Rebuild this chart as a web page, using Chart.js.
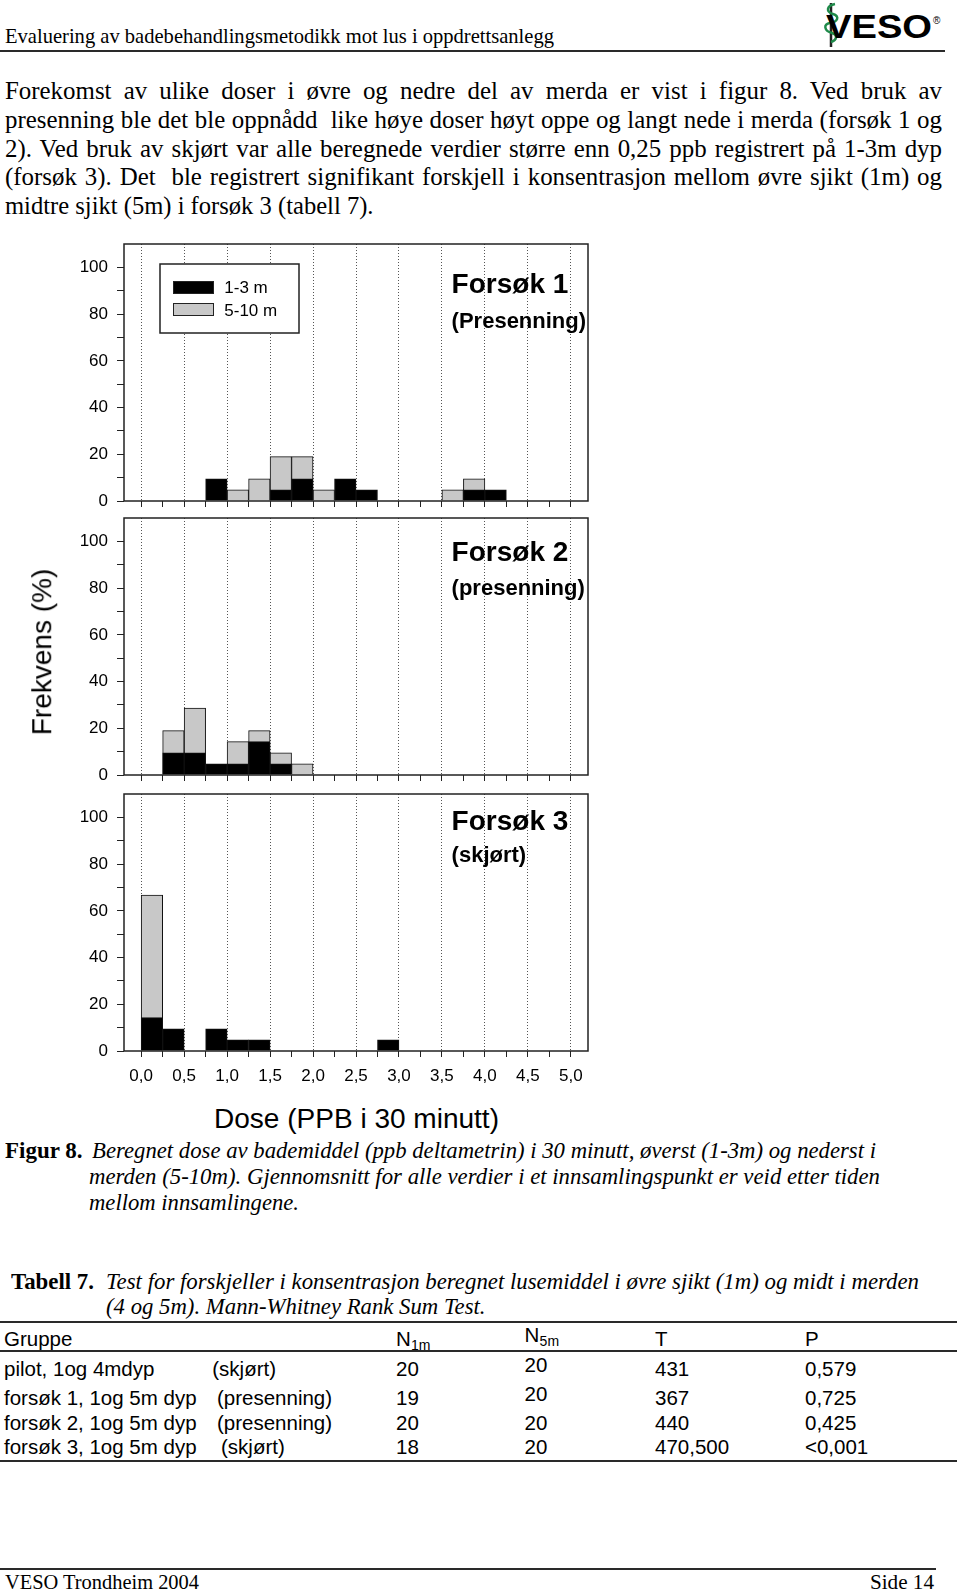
<!DOCTYPE html>
<html><head><meta charset="utf-8">
<script src="https://cdn.jsdelivr.net/npm/chart.js@4/dist/chart.umd.min.js"></script>
<style>
html,body{margin:0;padding:0;background:#fff;}
body{width:960px;height:1591px;position:relative;overflow:hidden;}
.t{position:absolute;white-space:pre;line-height:1;transform-origin:0 50%;color:#000;}
.rule{position:absolute;background:#2a2a2a;}
canvas{position:absolute;left:0;}
</style></head><body>
<canvas id="p1"></canvas><canvas id="p2"></canvas><canvas id="p3"></canvas>
<svg style="position:absolute;left:818px;top:0;" width="40" height="50" viewBox="0 0 40 50">
  <line x1="13" y1="3" x2="13" y2="47" stroke="#222" stroke-width="2.5"/>
  <path d="M17 4 C8 6 8 12 15 14 C22 16 20 22 12 23 C5 24 6 31 14 33 C20 35 19 40 13 42" fill="none" stroke="#1f8a4a" stroke-width="2.5"/>
</svg>
<script>
// ---------------- data ----------------
const binStarts = [0,0.25,0.5,0.75,1,1.25,1.5,1.75,2,2.25,2.5,2.75,3,3.25,3.5,3.75,4,4.25,4.5,4.75];
const binWidth = 0.25;
const seriesNames = ['1-3 m','5-10 m'];
const f1Upper = [0,0,0,9.5,0,0,4.8,9.5,0,9.5,4.8,0,0,0,0,4.8,4.8,0,0,0];
const f1Lower = [0,0,0,0,4.8,9.5,19,19,4.8,0,0,0,0,0,4.8,9.5,0,0,0,0];
const f2Upper = [0,9.5,9.5,4.8,4.8,14.3,4.8,0,0,0,0,0,0,0,0,0,0,0,0,0];
const f2Lower = [0,19,28.6,0,14.3,19,9.5,4.8,0,0,0,0,0,0,0,0,0,0,0,0];
const f3Upper = [14.3,9.5,0,9.5,4.8,4.8,0,0,0,0,0,4.8,0,0,0,0,0,0,0,0];
const f3Lower = [66.7,0,0,0,0,0,0,0,0,0,0,0,0,0,0,0,0,0,0,0];
const xTickValues = [0,0.25,0.5,0.75,1,1.25,1.5,1.75,2,2.25,2.5,2.75,3,3.25,3.5,3.75,4,4.25,4.5,4.75,5];
const xTickLabels = ['0,0','','0,5','','1,0','','1,5','','2,0','','2,5','','3,0','','3,5','','4,0','','4,5','','5,0'];
const yTickValues = [0,10,20,30,40,50,60,70,80,90,100];
const yTickLabels = ['0','','20','','40','','60','','80','','100'];
const panelTitles = ['Forsøk 1','Forsøk 2','Forsøk 3'];
const panelSubtitles = ['(Presenning)','(presenning)','(skjørt)'];
const xTitle = 'Dose (PPB i 30 minutt)';
const yTitle = 'Frekvens (%)';

const tableHead = ['Gruppe','N','1m','N','5m','T','P'];
const tableGroups = ['pilot, 1og 4mdyp','forsøk 1, 1og 5m dyp','forsøk 2, 1og 5m dyp','forsøk 3, 1og 5m dyp'];
const tableCovers = ['(skjørt)','(presenning)','(presenning)','(skjørt)'];
const tableN1 = ['20','19','20','18'];
const tableN5 = ['20','20','20','20'];
const tableT = ['431','367','440','470,500'];
const tableP = ['0,579','0,725','0,425','<0,001'];

// ---------------- page text ----------------
const SANS='"Liberation Sans", Arial, sans-serif', SERIF='"Liberation Serif", "Times New Roman", serif';
function put(str, x, base, o) {
  const s = document.createElement('span');
  s.className='t'; s.textContent=str;
  s.style.fontFamily = o.sans ? SANS : SERIF;
  s.style.fontSize = o.fs+'px';
  if (o.bold) s.style.fontWeight='bold';
  if (o.italic) s.style.fontStyle='italic';
  document.body.appendChild(s);
  const k = o.sans?0.8465:0.8375;
  s.style.top = (base - k*o.fs)+'px';
  const w = s.getBoundingClientRect().width;
  let tw = w;
  if (o.fit) {
    tw = o.fit;
    const n = (str.match(/ /g)||[]).length;
    if (o.justify && w < o.fit && n) s.style.wordSpacing = ((o.fit-w)/n)+'px';
    else s.style.transform = 'scaleX(' + (o.fit/w) + ')';
  }
  let left = x;
  if (o.align==='center') left = x - tw/2; else if (o.align==='right') left = x - tw;
  s.style.left = left+'px';
  return s;
}
function rule(x,y,w,h){const d=document.createElement('div');d.className='rule';d.style.left=x+'px';d.style.top=y+'px';d.style.width=w+'px';d.style.height=h+'px';document.body.appendChild(d);}

put('Evaluering av badebehandlingsmetodikk mot lus i oppdrettsanlegg', 5, 43.5, {fs:20.75, fit:549});
rule(0,50,945,2);
put('VESO', 826, 38, {fs:34, sans:true, bold:true, fit:106});
put('®', 933, 24, {fs:10, sans:true});

const para = [
 'Forekomst av ulike doser i øvre og nedre del av merda er vist i figur 8. Ved bruk av',
 'presenning ble det ble oppnådd  like høye doser høyt oppe og langt nede i merda (forsøk 1 og',
 '2). Ved bruk av skjørt var alle beregnede verdier større enn 0,25 ppb registrert på 1-3m dyp',
 '(forsøk 3). Det  ble registrert signifikant forskjell i konsentrasjon mellom øvre sjikt (1m) og',
 'midtre sjikt (5m) i forsøk 3 (tabell 7).'];
const paraBase = [99.5,128.5,157.5,186,215];
para.forEach((l,i)=>put(l,5,paraBase[i],{fs:24.9, fit: i<4?937:368.5, justify:i<4}));

put('Figur 8.', 5, 1159, {fs:22.8, bold:true, fit:77.5});
put('Beregnet dose av bademiddel (ppb deltametrin) i 30 minutt, øverst (1-3m) og nederst i', 92, 1159, {fs:22.8, italic:true, fit:784});
put('merden (5-10m). Gjennomsnitt for alle verdier i et innsamlingspunkt er veid etter tiden', 89, 1185, {fs:22.8, italic:true, fit:791});
put('mellom innsamlingene.', 89, 1211, {fs:22.8, italic:true, fit:210});

put('Tabell 7.', 11, 1290, {fs:22.4, bold:true, fit:83});
put('Test for forskjeller i konsentrasjon beregnet lusemiddel i øvre sjikt (1m) og midt i merden', 105.5, 1290, {fs:22.4, italic:true, fit:813});
put('(4 og 5m). Mann-Whitney Rank Sum Test.', 105.5, 1315, {fs:22.4, italic:true, fit:379.5});

rule(0,1320.5,957,2);
const TF=20.5;
put(tableHead[0], 4, 1346, {fs:TF, sans:true});
put(tableHead[1], 396, 1346, {fs:TF, sans:true});
put(tableHead[2], 411, 1350, {fs:14, sans:true});
put(tableHead[3], 524.6, 1342, {fs:TF, sans:true});
put(tableHead[4], 539.6, 1346, {fs:14, sans:true});
put(tableHead[5], 655, 1346, {fs:TF, sans:true});
put(tableHead[6], 805, 1346, {fs:TF, sans:true});
rule(0,1350,957,1.5);
const rowBase=[1376,1405,1430,1454];
const coverX=[212.3,217,217,221];
const n5Base=[1372,1401,1430,1454];
tableGroups.forEach((g,i)=>{
  put(g,4,rowBase[i],{fs:TF,sans:true});
  put(tableCovers[i],coverX[i],rowBase[i],{fs:TF,sans:true});
  put(tableN1[i],396,rowBase[i],{fs:TF,sans:true});
  put(tableN5[i],524.6,n5Base[i],{fs:TF,sans:true});
  put(tableT[i],655,rowBase[i],{fs:TF,sans:true});
  put(tableP[i],805,rowBase[i],{fs:TF,sans:true});
});
rule(0,1460,957,2);

rule(0,1568,936,2);
put('VESO Trondheim 2004', 5, 1589, {fs:20.3, fit:194});
put('Side 14', 934, 1589, {fs:20.3, fit:64, align:'right'});

// axis titles
put(xTitle, 356, 1128.7, {fs:27, sans:true, fit:285, align:'center'});
(function(){
  const s = document.createElement('span');
  s.className='t'; s.textContent=yTitle;
  s.style.fontFamily=SANS; s.style.fontSize='28px';
  document.body.appendChild(s);
  const r = s.getBoundingClientRect();
  s.style.transformOrigin='50% 50%';
  s.style.left=(42.3 - r.width/2)+'px';
  s.style.top=(651.5 - r.height/2)+'px';
  s.style.transform='rotate(-90deg)';
})();

// ---------------- charts ----------------
const framePlugin = {
  id:'frame',
  afterDraw(chart, args, o) {
    const {ctx, chartArea:a} = chart;
    ctx.save();
    if (o.legend) {
      const L = o.legend, bx = a.left+L.x, by = a.top+L.y;
      ctx.fillStyle='#fff'; ctx.fillRect(bx,by,L.w,L.h);
      ctx.lineWidth=1.5; ctx.strokeStyle='#222'; ctx.strokeRect(bx,by,L.w,L.h);
      chart.data.datasets.forEach((ds,i)=>{
        const sy = by + L.sy[i];
        ctx.fillStyle = ds.backgroundColor; ctx.fillRect(bx+L.sx, sy, L.sw, L.sh);
        ctx.lineWidth=1; ctx.strokeStyle='#222'; ctx.strokeRect(bx+L.sx+0.5, sy+0.5, L.sw-1, L.sh-1);
        ctx.fillStyle='#000'; ctx.font='17px '+SANS; ctx.textBaseline='alphabetic'; ctx.textAlign='left';
        ctx.fillText(ds.label, bx+L.tx, by+L.ty[i]);
      });
    }
    ctx.fillStyle='#000'; ctx.textAlign='left'; ctx.textBaseline='alphabetic';
    ctx.font='bold 28px '+SANS; ctx.fillText(o.title, a.left+o.tx, a.top+o.ty1);
    ctx.font='bold 22px '+SANS; ctx.fillText(o.subtitle, a.left+o.tx, a.top+o.ty2);
    ctx.lineWidth=1.5; ctx.strokeStyle='#222';
    ctx.strokeRect(a.left, a.top, a.right-a.left, a.bottom-a.top);
    ctx.restore();
  }
};
function toXY(arr){ return binStarts.map((s,i)=>({x: s + binWidth/2, y: arr[i] ? arr[i] : null})); }
function isMajor(v){ return Math.abs(v*2 - Math.round(v*2)) < 1e-6; }

function panel(id, topPx, upper, lower, k, showX, titlePos, legend) {
  const cv = document.getElementById(id);
  const H = 4 + 257 + (showX ? 40 : 8);
  cv.width = 600; cv.height = H;
  cv.style.top = (topPx-4)+'px'; cv.style.width='600px'; cv.style.height=H+'px';
  new Chart(cv, {
    type:'bar',
    data:{datasets:[
      {label: seriesNames[0], data: toXY(upper), backgroundColor:'#000000', borderColor:'#111', borderWidth:1, grouped:false, barPercentage:1, categoryPercentage:1},
      {label: seriesNames[1], data: toXY(lower), backgroundColor:'#c8c8c8', borderColor:'#111', borderWidth:1, grouped:false, barPercentage:1, categoryPercentage:1}
    ]},
    options:{
      responsive:false, animation:false, devicePixelRatio:1,
      layout:{padding:{left:0,right:12,top:4,bottom:0}},
      plugins:{legend:{display:false}, tooltip:{enabled:false},
        frame:{title:panelTitles[k], subtitle:panelSubtitles[k], tx:titlePos[0], ty1:titlePos[1], ty2:titlePos[2], legend:legend}},
      scales:{
        x:{type:'linear', min:-0.2, max:5.2, offset:false,
          grid:{offset:false, drawOnChartArea:true, drawTicks:true, tickLength:6, tickWidth:1, tickColor:'#222',
            color: c => (c.tick && isMajor(c.tick.value)) ? '#555' : 'rgba(0,0,0,0)', lineWidth:1},
          border:{display:false, dash:[1,2]},
          ticks:{display:showX, autoSkip:false, maxRotation:0, minRotation:0, padding:9, color:'#000',
            font:{family:SANS, size:17}, callback:(v,i)=>xTickLabels[i]},
          afterBuildTicks: s => { s.ticks = xTickValues.map(v=>({value:v})); },
          afterFit: s => { s.height = showX?40:8; s.paddingLeft=0; s.paddingRight=0; }
        },
        y:{min:0, max:110,
          grid:{drawOnChartArea:false, drawTicks:true, tickLength:7, tickWidth:1, tickColor:'#222'},
          border:{display:false},
          ticks:{padding:9, color:'#000', font:{family:SANS, size:17}, callback:(v,i)=>yTickLabels[i]},
          afterBuildTicks: s => { s.ticks = yTickValues.map(v=>({value:v})); },
          afterFit: s => { s.width=124; s.paddingTop=0; s.paddingBottom=0; }
        }
      }
    },
    plugins:[framePlugin]
  });
}
const legendBox = {x:36, y:20, w:139, h:69, sx:13, sw:41, sh:13, sy:[17,39], tx:64.3, ty:[29,51.6]};
panel('p1', 244, f1Upper, f1Lower, 0, false, [327.6,49,84], legendBox);
panel('p2', 518, f2Upper, f2Lower, 1, false, [327.6,42.5,77], null);
panel('p3', 794, f3Upper, f3Lower, 2, true, [327.6,36,68.3], null);
</script>
</body></html>
